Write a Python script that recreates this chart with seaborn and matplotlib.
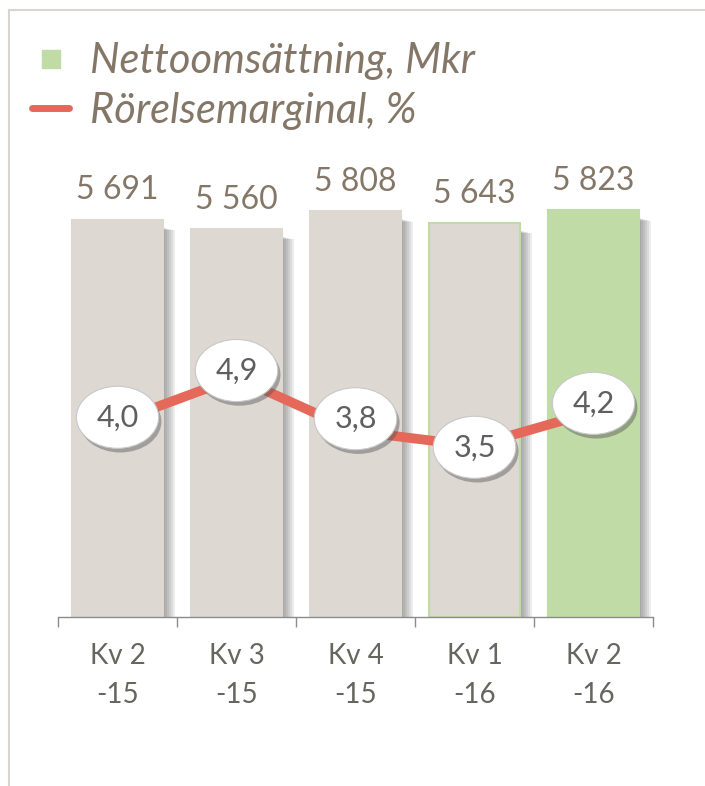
import numpy as np
import pandas as pd
import matplotlib
matplotlib.use("Agg")
import matplotlib.pyplot as plt
import matplotlib.patheffects as pe
from matplotlib.lines import Line2D
from matplotlib.patches import Rectangle
import seaborn as sns

# data
quarters = ["Kv 2\n-15", "Kv 3\n-15", "Kv 4\n-15", "Kv 1\n-16", "Kv 2\n-16"]
net_sales = [5691, 5560, 5808, 5643, 5823]      # Mkr
op_margin = [4.0, 4.9, 3.8, 3.5, 4.2]           # %
margin_labels = ["4,0", "4,9", "3,8", "3,5", "4,2"]

BEIGE = "#ded8d3"
GREEN = "#c0dba6"
RED = "#e5695a"
BROWN = "#857768"
GREY_TXT = "#66665e"

sns.set_theme(style="white")
plt.rcParams["font.family"] = ["Lato", "DejaVu Sans"]

fig = plt.figure(figsize=(7.05, 7.86), dpi=100)
ax = fig.add_axes([0.0823, 0.215, 0.844, 0.622])

df = pd.DataFrame({"quarter": quarters, "sales": net_sales})
bar_colors = [BEIGE, BEIGE, BEIGE, BEIGE, GREEN]
edge_colors = [BEIGE, BEIGE, BEIGE, GREEN, GREEN]

# soft shadow to the right of each bar (stacked translucent copies)
xs = np.arange(len(quarters))
for off in np.linspace(0.015, 0.1, 6):
    ax.bar(xs + off, np.array(net_sales) - 70 - off * 400, bottom=-40, width=0.765,
           color="#555555", alpha=0.11, linewidth=0, zorder=1)

sns.barplot(data=df, x="quarter", y="sales", hue="quarter", palette=bar_colors,
            legend=False, width=0.765, ax=ax, zorder=2, saturation=1)
for patch, ec in zip(ax.patches[-len(quarters):], edge_colors):
    patch.set_edgecolor(ec)
    patch.set_linewidth(1.5)

for i, v in enumerate(net_sales):
    ax.annotate(f"{v:,}".replace(",", " "), (i, v), xytext=(0, 21),
                textcoords="offset points", ha="center", va="center",
                fontsize=23, color=BROWN, zorder=5)

ax.set_xlim(-0.5, 4.5)
ax.set_ylim(0, 7000)
ax.set_yticks([])
ax.set_xlabel("")
ax.set_ylabel("")
for s in ["top", "right", "left"]:
    ax.spines[s].set_visible(False)
ax.spines["bottom"].set_color("#8c8c8c")
ax.spines["bottom"].set_linewidth(1)
ax.spines["bottom"].set_zorder(4)
ax.set_xticks(xs)
ax.set_xticklabels(quarters, fontsize=20, color=GREY_TXT, linespacing=1.6)
ax.set_xticks(np.arange(-0.5, 5, 1), minor=True)
ax.tick_params(axis="x", which="major", length=0, pad=19)
ax.tick_params(axis="x", which="minor", length=7, width=1, color="#8c8c8c",
               bottom=True, direction="out")

# operating margin on a hidden secondary axis
ax2 = ax.twinx()
sns.lineplot(x=xs, y=op_margin, color=RED, linewidth=7, ax=ax2, zorder=3)
ax2.set_ylim(0, 10)
ax2.set_yticks([])
ax2.set_ylabel("")
for s in ax2.spines.values():
    s.set_visible(False)

nudge = [3, 5, 9, -1, 6]
for i, (v, lab) in enumerate(zip(op_margin, margin_labels)):
    t = ax2.annotate(lab, (i, v), xytext=(0, nudge[i]), textcoords="offset points",
                     ha="center", va="center", fontsize=22, color="#5f5f5f",
                     zorder=6,
                     bbox=dict(boxstyle="ellipse,pad=0.26", fc="white",
                               ec="#c8c8c8", lw=0.8))
    t.get_bbox_patch().set_path_effects(
        [pe.SimplePatchShadow(offset=(2, -3), shadow_rgbFace="#555555", alpha=0.45),
         pe.Normal()])

# legend
handles = [Line2D([], [], marker="s", linestyle="none", color=GREEN, markersize=13),
           Line2D([], [], color=RED, linewidth=5)]
leg = fig.legend(handles, ["Nettoomsättning, Mkr", "Rörelsemarginal, %"],
                 loc="upper left", bbox_to_anchor=(-0.008, 0.994), frameon=False,
                 prop={"size": 30, "style": "italic"}, handlelength=0.9,
                 handletextpad=0.5, labelspacing=0.28)
for txt in leg.get_texts():
    txt.set_color(BROWN)

# thin chart-area frame
fig.patches.append(Rectangle((9 / 705, -0.01), 1.0, 1 - 10 / 786 + 0.01,
                             transform=fig.transFigure, fill=False,
                             ec="#d9d4cf", lw=1.5))

fig.savefig("out.png", dpi=100)
